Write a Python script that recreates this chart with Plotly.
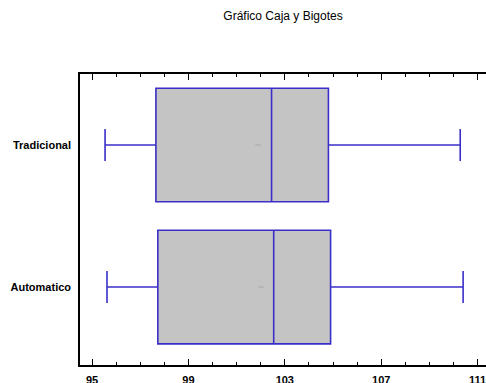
import plotly.graph_objects as go

# Data
categories = ["Automatico", "Tradicional"]
lower_whisker = [95.62, 95.54]
q1_values = [97.73, 97.65]
medians = [102.54, 102.45]
q3_values = [104.90, 104.81]
upper_whisker = [110.40, 110.28]
means = [102.01, 101.89]

x_tick_vals = [95, 99, 103, 107, 111]
x_tick_text = ["95", "99", "103", "107", "111"]

title_text = "Gráfico Caja y Bigotes"

line_color = "#3a2fc8"
fill_color = "#c4c4c4"
font_family = "Liberation Sans, Arial, sans-serif"

fig = go.Figure()
fig.add_trace(go.Box(
    y=categories,
    q1=q1_values,
    median=medians,
    q3=q3_values,
    lowerfence=lower_whisker,
    upperfence=upper_whisker,
    orientation="h",
    fillcolor=fill_color,
    line=dict(color=line_color, width=1.6),
    whiskerwidth=0.28,
    width=0.8,
    boxpoints=False,
    hoverinfo="skip",
    showlegend=False,
))
fig.add_trace(go.Scatter(
    x=means,
    y=categories,
    mode="markers",
    marker=dict(symbol="line-ew", size=4, line=dict(color="#a8a8a8", width=1)),
    hoverinfo="skip",
    showlegend=False,
))

fig.update_layout(
    width=486,
    height=383,
    margin=dict(l=80, r=0, t=74, b=18, autoexpand=False),
    paper_bgcolor="white",
    plot_bgcolor="white",
    font=dict(family=font_family, color="black", size=11),
    title=dict(
        text=title_text,
        x=(80 + 486) / 2 / 486,
        xref="container",
        xanchor="center",
        y=1 - 16 / 383,
        yref="container",
        yanchor="middle",
        font=dict(family=font_family, size=12, color="black"),
    ),
)

fig.update_xaxes(
    automargin=False,
    range=[94.5, 111.35],
    tickmode="array",
    tickvals=x_tick_vals,
    ticktext=x_tick_text,
    ticks="inside",
    ticklen=6,
    tickwidth=1,
    tickcolor="black",
    minor=dict(dtick=1, tick0=95, ticks="inside", ticklen=3, tickcolor="black", tickwidth=1),
    showline=True,
    linecolor="black",
    linewidth=1.5,
    mirror="ticks",
    showgrid=False,
    zeroline=False,
    tickfont=dict(family=font_family, size=11, color="black", weight="bold"),
    ticklabelstandoff=4,
    ticklabeloverflow="allow",
)
fig.update_yaxes(
    automargin=False,
    type="category",
    categoryorder="array",
    categoryarray=categories,
    range=[-0.549, 1.5],
    showline=True,
    linecolor="black",
    linewidth=1.5,
    mirror=False,
    ticks="",
    showgrid=False,
    zeroline=False,
    tickfont=dict(family=font_family, size=11, color="black", weight="bold"),
    ticklabelstandoff=5,
)

fig.write_html(
    "out.html",
    config={"displayModeBar": False},
    post_script="document.body.style.margin='0';document.body.style.overflow='hidden';",
)
